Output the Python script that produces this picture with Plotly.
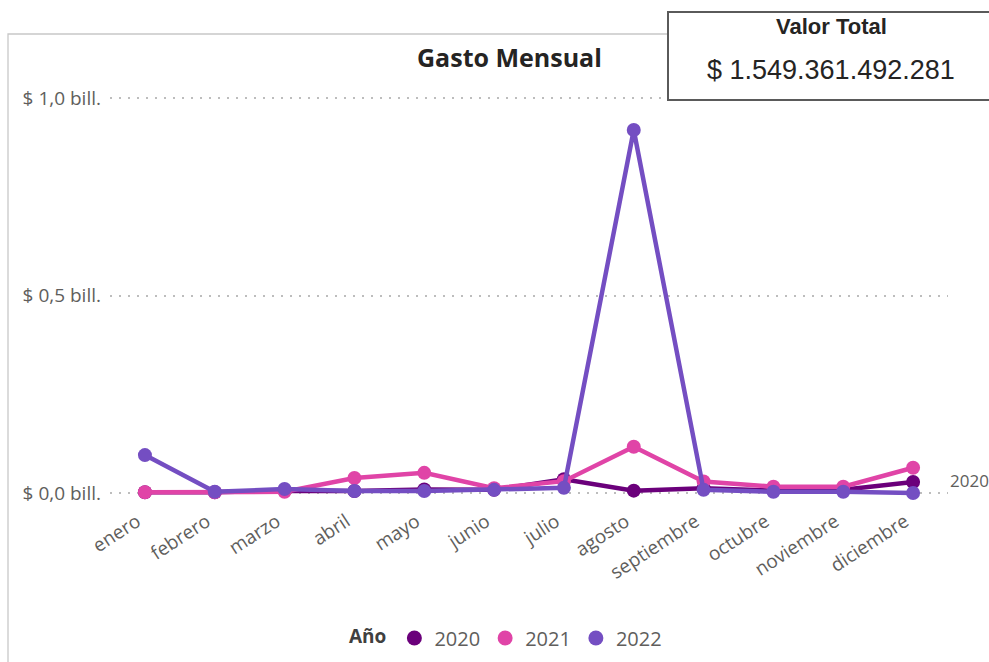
import plotly.graph_objects as go

# Monthly spend per year, in billones (10^12 pesos)
meses = ["enero", "febrero", "marzo", "abril", "mayo", "junio", "julio",
         "agosto", "septiembre", "octubre", "noviembre", "diciembre"]
gasto_2020 = [0.002, 0.002, 0.006, 0.005, 0.009, 0.008, 0.035, 0.006, 0.012, 0.006, 0.008, 0.028]
gasto_2021 = [0.002, 0.002, 0.003, 0.038, 0.051, 0.012, 0.030, 0.117, 0.029, 0.016, 0.016, 0.064]
gasto_2022 = [0.096, 0.003, 0.010, 0.005, 0.005, 0.008, 0.013, 0.919, 0.008, 0.003, 0.003, 0.000]

y_ticks = [0, 0.5, 1.0]
y_tick_labels = ["$ 0,0 bill.", "$ 0,5 bill.", "$ 1,0 bill."]
valor_total = "$ 1.549.361.492.281"

series = [("2020", gasto_2020, "#6B007B"),
          ("2021", gasto_2021, "#E044A7"),
          ("2022", gasto_2022, "#744EC2")]

W, H = 989, 662
L, R, T, B = 110, 41, 78, 158
PW, PH = W - L - R, H - T - B
Y0_PX, PX_PER_UNIT = 493, 395


def px(x):
    return (x - L) / PW


def py(y):
    return (H - B - y) / PH


fig = go.Figure()
for name, vals, color in series:
    fig.add_trace(go.Scatter(
        x=meses, y=vals, name=name, mode="lines+markers",
        line=dict(color=color, width=4.5),
        marker=dict(color=color, size=14),
        showlegend=False, cliponaxis=False, hoverinfo="x+y",
    ))
# Legend entries shown as plain dots
for name, vals, color in series:
    fig.add_trace(go.Scatter(
        x=[None], y=[None], name=name, mode="markers",
        marker=dict(color=color, size=15), showlegend=True,
    ))

grey = "#605E5C"
fig.update_layout(
    width=W, height=H,
    margin=dict(l=L, r=R, t=T, b=B, autoexpand=False),
    paper_bgcolor="white", plot_bgcolor="white",
    font=dict(family="Open Sans, Noto Sans, sans-serif", color=grey, size=14),
    xaxis=dict(
        type="category", range=[-0.5, 11.5], tickangle=-33,
        showgrid=False, zeroline=False, showline=False, ticks="",
        tickfont=dict(size=19, color=grey), ticklabelstandoff=2,
        ticklabelshift=-8, automargin=False,
    ),
    yaxis=dict(
        range=[-(H - B - Y0_PX) / PX_PER_UNIT, (Y0_PX - T) / PX_PER_UNIT],
        tickvals=y_ticks, ticktext=y_tick_labels,
        showgrid=True, gridcolor="#BDBDBD", griddash="2px,7px", gridwidth=1.5,
        zeroline=False, showline=False, ticks="",
        tickfont=dict(size=19, color=grey), ticklabelstandoff=8,
        automargin=False,
    ),
    legend=dict(
        orientation="h", x=px(507), xanchor="center", y=py(638), yanchor="middle",
        title=dict(text="<b>Año</b>", font=dict(size=19, color="#404040")),
        font=dict(size=20, color=grey), itemwidth=30, tracegroupgap=0,
    ),
    shapes=[
        # visual frame
        dict(type="rect", xref="paper", yref="paper",
             x0=px(8), x1=px(1000), y0=py(680), y1=py(34),
             line=dict(color="#C8C8C8", width=1.3), fillcolor="rgba(0,0,0,0)",
             layer="below"),
        # total card
        dict(type="rect", xref="paper", yref="paper",
             x0=px(668), x1=px(996), y0=py(100), y1=py(12),
             line=dict(color="#5A5A5A", width=2), fillcolor="white",
             layer="above"),
    ],
    annotations=[
        dict(text="<b>Gasto Mensual</b>", xref="paper", yref="paper",
             x=px(509), y=py(57), xanchor="center", yanchor="middle",
             showarrow=False, font=dict(size=25, color="#252423",
                                        family="Open Sans, sans-serif")),
        dict(text="<b>Valor Total</b>", xref="paper", yref="paper",
             x=px(831), y=py(27), xanchor="center", yanchor="middle",
             showarrow=False, font=dict(size=22, color="#252423",
                                        family="Liberation Sans, Arial, sans-serif")),
        dict(text=valor_total, xref="paper", yref="paper",
             x=px(831), y=py(70), xanchor="center", yanchor="middle",
             showarrow=False, font=dict(size=27, color="#252423",
                                        family="Liberation Sans, Arial, sans-serif")),
        dict(text="2020", xref="paper", yref="paper",
             x=px(948), y=py(480), xanchor="left", yanchor="middle",
             showarrow=False, font=dict(size=17, color=grey)),
    ],
)

fig.write_html("out.html")
